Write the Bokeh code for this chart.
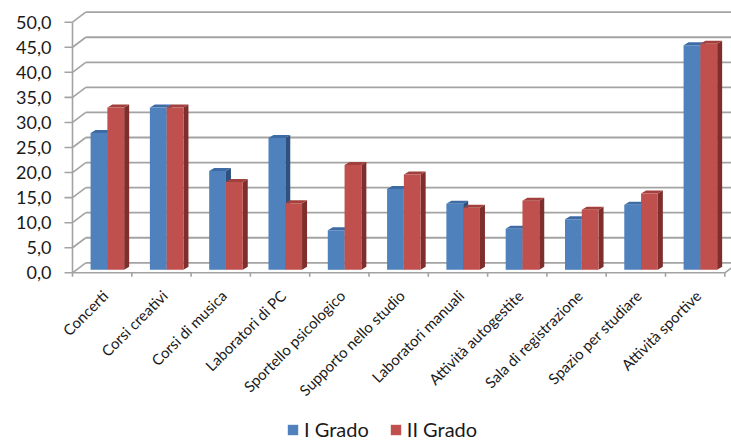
import math
from bokeh.plotting import figure
from bokeh.models import Range1d, Legend, LegendItem
from bokeh.core.properties import value
from bokeh.embed import file_html
from bokeh.resources import INLINE

# ---------------- data ----------------
categories = ["Concerti", "Corsi creativi", "Corsi di musica", "Laboratori di PC",
              "Sportello psicologico", "Supporto nello studio", "Laboratori manuali",
              "Attività autogestite", "Sala di registrazione", "Spazio per studiare",
              "Attività sportive"]
i_grado = [27.3, 32.4, 19.7, 26.3, 7.9, 16.1, 13.2, 8.2, 10.1, 13.0, 44.8]
ii_grado = [32.4, 32.4, 17.5, 13.3, 20.9, 19.0, 12.4, 13.8, 12.0, 15.2, 45.1]
series_names = ["I Grado", "II Grado"]
y_ticks = [0, 5, 10, 15, 20, 25, 30, 35, 40, 45, 50]
y_tick_labels = [f"{t:.1f}".replace(".", ",") for t in y_ticks]

# ---------------- style / geometry ----------------
W, H = 731, 442
AXIS_X = 72                  # px from left to the front value axis
N = len(categories)
SX = 59.3                    # px per category
SY = 5.012                   # px per value unit
Y0_FROM_BOTTOM = 169.7       # px from bottom to the value 0 (front)
ymin = -Y0_FROM_BOTTOM / SY
ymax = (H - Y0_FROM_BOTTOM) / SY
xmin = -AXIS_X / SX
xmax = (W - AXIS_X) / SX

WALL_DX = 13.3 / SX
WALL_DY = 10.0 / SY
BAR_DX = 5.0 / SX
BAR_DY = 3.0 / SY
BASE = 3.0 / SY
BAR_W = 0.283
BAR_START = 0.305
LABEL_DROP = 20.0 / SY
YTICK_LEN = 8.0 / SX

GRID = "#a3a3a3"
FONT = "Lato"
TEXT = "#1a1a1a"
COLORS = [
    {"front": "#4F81BD", "top": "#3E6BA4", "side": "#2F5180"},
    {"front": "#C0504D", "top": "#A2403D", "side": "#7E2E2C"},
]

p = figure(width=W, height=H, x_range=Range1d(xmin, xmax), y_range=Range1d(ymin, ymax),
           output_backend="svg", toolbar_location=None, x_axis_type=None, y_axis_type=None,
           min_border_left=0, min_border_right=0, min_border_top=0, min_border_bottom=0)
p.outline_line_color = None
p.xgrid.visible = False
p.ygrid.visible = False
p.background_fill_color = "white"

nt = len(y_ticks)
# back wall gridlines
p.segment(x0=[WALL_DX] * nt, y0=[t + WALL_DY for t in y_ticks],
          x1=[xmax + 1] * nt, y1=[t + WALL_DY for t in y_ticks],
          line_color=GRID, line_width=1.8)
# side wall diagonals
p.segment(x0=[0] * nt, y0=y_ticks, x1=[WALL_DX] * nt, y1=[t + WALL_DY for t in y_ticks],
          line_color=GRID, line_width=1.6)
# front value axis line + ticks
p.segment(x0=[0], y0=[y_ticks[0]], x1=[0], y1=[y_ticks[-1]], line_color=GRID, line_width=1.6)
p.segment(x0=[-YTICK_LEN] * nt, y0=y_ticks, x1=[0] * nt, y1=y_ticks,
          line_color=GRID, line_width=1.6)
# value axis labels
p.text(x=[0] * nt, y=y_ticks, text=y_tick_labels, text_align="right",
       text_baseline="middle", x_offset=-21, text_font=value(FONT),
       text_font_size="18px", text_color=TEXT)
# floor front edge, right edge, category ticks
p.segment(x0=[0, N], y0=[0, 0], x1=[N, N + WALL_DX], y1=[0, WALL_DY],
          line_color=GRID, line_width=1.6)
p.segment(x0=list(range(N + 1)), y0=[0] * (N + 1), x1=list(range(N + 1)),
          y1=[-4.0 / SY] * (N + 1), line_color=GRID, line_width=1.6)

# bars
front_renderers = []
for s, vals in enumerate([i_grado, ii_grado]):
    x0s = [i + BAR_START + s * BAR_W for i in range(N)]
    x1s = [x + BAR_W for x in x0s]
    tops = [BASE + v for v in vals]
    side_xs = [[x1, x1 + BAR_DX, x1 + BAR_DX, x1] for x1 in x1s]
    side_ys = [[BASE, BASE + BAR_DY, t + BAR_DY, t] for t in tops]
    top_xs = [[x0, x0 + BAR_DX, x1 + BAR_DX, x1] for x0, x1 in zip(x0s, x1s)]
    top_ys = [[t, t + BAR_DY, t + BAR_DY, t] for t in tops]
    p.patches(xs=side_xs, ys=side_ys, fill_color=COLORS[s]["side"], line_color=None)
    p.patches(xs=top_xs, ys=top_ys, fill_color=COLORS[s]["top"], line_color=None)
    r = p.quad(left=x0s, right=x1s, bottom=[BASE] * N, top=tops,
               fill_color=COLORS[s]["front"], line_color=None)
    front_renderers.append(r)

# category labels
p.text(x=[i + 0.5 for i in range(N)], y=[-LABEL_DROP] * N, text=categories,
       angle=math.pi / 4, text_align="right", text_baseline="middle", x_offset=3,
       text_font=value(FONT), text_font_size="15px", text_color=TEXT)

legend = Legend(items=[LegendItem(label=series_names[k], renderers=[front_renderers[k]])
                       for k in range(2)],
                orientation="horizontal", location=(286, 1),
                glyph_width=13, glyph_height=13, label_standoff=5, spacing=20,
                padding=0, margin=0, border_line_color=None, background_fill_alpha=0,
                label_text_font=FONT, label_text_font_size="20px", label_height=20,
                label_text_color=TEXT)
p.add_layout(legend)

open("out.html", "w").write(file_html(p, INLINE))
